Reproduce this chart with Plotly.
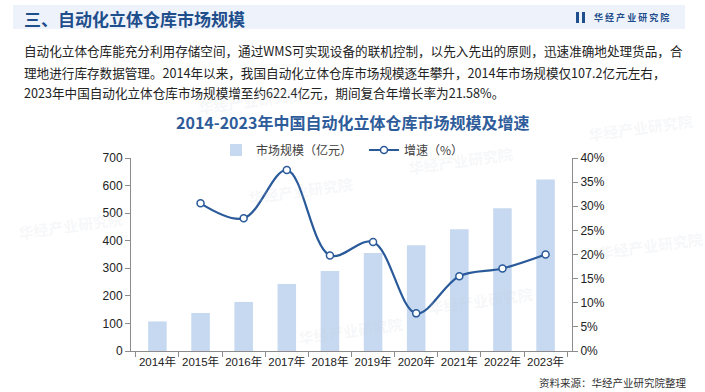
import plotly.graph_objects as go

years = ["2014年", "2015年", "2016年", "2017年", "2018年", "2019年", "2020年", "2021年", "2022年", "2023年"]
market_size = [107.2, 138, 178, 243, 290, 355, 384, 442, 518, 622.4]
growth = [None, 30.6, 27.5, 37.5, 19.8, 22.6, 7.8, 15.5, 17.1, 20.0]

W, H = 705, 392
L, R, T, B = 131, 572, 158, 351

def px(x):
    return (x - L) / (R - L)

def py(y):
    return (B - y) / (B - T)

FONT = "Liberation Sans, Arial, Noto Sans CJK SC, sans-serif"
CJK = "Noto Sans CJK SC, Microsoft YaHei, sans-serif"
BLUE = "#2a5a9a"

fig = go.Figure()
fig.add_trace(go.Bar(
    x=years, y=market_size, name="市场规模（亿元）",
    marker=dict(color="#c6d9f1", line=dict(width=0)), width=0.43,
    yaxis="y", legend="legend",
))
fig.add_trace(go.Scatter(
    x=years, y=growth, name="增速（%）", mode="lines+markers",
    line=dict(color=BLUE, width=2.2, shape="spline", smoothing=1.0),
    marker=dict(size=7, color="white", line=dict(color=BLUE, width=1.5)),
    yaxis="y2", connectgaps=False, legend="legend2",
))

annotations = [
    dict(text="<b>三、自动化立体仓库市场规模</b>", x=px(22), y=py(18), xref="paper", yref="paper",
         xanchor="left", yanchor="middle", showarrow=False, font=dict(family=CJK, size=17, color="#1f4e8c")),
    dict(text="<b>华 经 产 业 研 究 院</b>", x=px(592), y=py(17), xref="paper", yref="paper",
         xanchor="left", yanchor="middle", showarrow=False, font=dict(family=CJK, size=9, color="#1f4e8c")),
    dict(text="自动化立体仓库能充分利用存储空间，通过WMS可实现设备的联机控制，以先入先出的原则，迅速准确地处理货品，合",
         x=px(22), y=py(50), xref="paper", yref="paper", xanchor="left", yanchor="middle", showarrow=False,
         font=dict(family=CJK, size=12.6, color="#222222")),
    dict(text="理地进行库存数据管理。2014年以来，我国自动化立体仓库市场规模逐年攀升，2014年市场规模仅107.2亿元左右，",
         x=px(22), y=py(72), xref="paper", yref="paper", xanchor="left", yanchor="middle", showarrow=False,
         font=dict(family=CJK, size=12.6, color="#222222")),
    dict(text="2023年中国自动化立体仓库市场规模增至约622.4亿元，期间复合年增长率为21.58%。",
         x=px(22), y=py(93), xref="paper", yref="paper", xanchor="left", yanchor="middle", showarrow=False,
         font=dict(family=CJK, size=12.6, color="#222222")),
    dict(text="<b>2014-2023年中国自动化立体仓库市场规模及增速</b>", x=px(352), y=py(122), xref="paper", yref="paper",
         xanchor="center", yanchor="middle", showarrow=False, font=dict(family=CJK, size=16, color="#2e5c9a")),
    dict(text="资料来源：华经产业研究院整理", x=px(537), y=py(382), xref="paper", yref="paper",
         xanchor="left", yanchor="middle", showarrow=False, font=dict(family=CJK, size=10.5, color="#333333")),
]

# faint watermarks as in the reference
wm = [(250, 100), (300, 190), (350, 330), (480, 300), (640, 128), (650, 245), (70, 225), (460, 160)]
for (wx, wy) in wm:
    annotations.append(dict(text="<b>华经产业研究院</b>", x=px(wx), y=py(wy), xref="paper", yref="paper",
                            xanchor="center", yanchor="middle", showarrow=False, textangle=-8,
                            font=dict(family=CJK, size=15, color="rgba(200,205,215,0.16)")))

shapes = [
    dict(type="rect", xref="paper", yref="paper", x0=px(13), x1=px(685), y0=py(5), y1=py(29),
         fillcolor="#eef3fb", line=dict(width=0), layer="below"),
    dict(type="rect", xref="paper", yref="paper", x0=px(576), x1=px(579), y0=py(12), y1=py(23),
         fillcolor="#1f4e8c", line=dict(width=0)),
    dict(type="rect", xref="paper", yref="paper", x0=px(582), x1=px(585), y0=py(12), y1=py(23),
         fillcolor="#1f4e8c", line=dict(width=0)),
]

fig.update_layout(
    width=W, height=H,
    margin=dict(l=L, r=W - R, t=T, b=H - B, pad=0),
    paper_bgcolor="white", plot_bgcolor="white",
    showlegend=True,
    legend=dict(orientation="h", x=px(216), y=py(150), xanchor="left", yanchor="middle",
                font=dict(family=CJK, size=12, color="#404040"), bgcolor="rgba(0,0,0,0)"),
    legend2=dict(orientation="h", x=px(364), y=py(150), xanchor="left", yanchor="middle",
                 font=dict(family=CJK, size=12, color="#404040"), bgcolor="rgba(0,0,0,0)"),
    bargap=0.5,
    xaxis=dict(type="category", showline=True, linecolor="#8c8c8c", linewidth=1,
               ticks="outside", tickson="boundaries", ticklen=5, tickcolor="#8c8c8c", tickangle=0,
               tickfont=dict(family=FONT, size=11.5, color="#222222"), showgrid=False),
    yaxis=dict(range=[0, 700], dtick=100, showline=True, linecolor="#8c8c8c", linewidth=1,
               ticks="outside", ticklen=5, tickcolor="#8c8c8c", showgrid=False, zeroline=False,
               tickfont=dict(family=FONT, size=12, color="#222222")),
    yaxis2=dict(range=[0, 40], dtick=5, overlaying="y", side="right", showline=True,
                linecolor="#8c8c8c", linewidth=1, ticks="outside", ticklen=5, tickcolor="#8c8c8c",
                showgrid=False, zeroline=False, ticksuffix="%",
                tickfont=dict(family=FONT, size=12, color="#222222")),
    annotations=annotations,
    shapes=shapes,
)

fig.write_html("out.html", config={"displayModeBar": False})

# remove the browser's default page margin so the figure sits at the top-left corner
with open("out.html", "r", encoding="utf-8") as f:
    html = f.read()
html = html.replace("<head>", "<head><style>html,body{margin:0;padding:0;overflow:hidden;}</style>", 1)
with open("out.html", "w", encoding="utf-8") as f:
    f.write(html)
